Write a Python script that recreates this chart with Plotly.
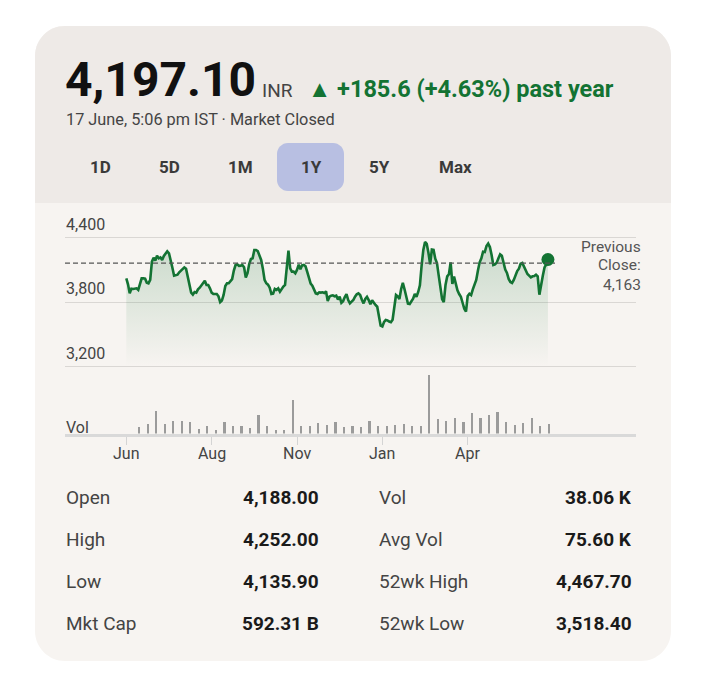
import plotly.graph_objects as go

W, H = 706, 685

# ---------------- data ----------------
price_close = [
    4022, 3966, 3882, 3926, 3923, 3926, 3929, 3914, 3960, 4022,
    4022, 4019, 3982, 3976, 4007, 4177, 4214, 4186, 4233, 4208,
    4217, 4193, 4230, 4251, 4273, 4255, 4199, 4121, 4047, 4050,
    4056, 4078, 4093, 4106, 4124, 4112, 4038, 3935, 3889, 3870,
    3895, 3889, 3920, 3935, 3960, 3982, 4000, 3960, 3960, 3929,
    3889, 3876, 3879, 3876, 3855, 3800, 3815, 3867, 3951, 3976,
    3976, 3991, 4015, 4095, 4146, 4152, 4137, 4140, 4146, 4125,
    4030, 4070, 4155, 4202, 4208, 4286, 4286, 4276, 4242, 4193,
    4112, 4007, 3976, 3963, 3935, 3876, 3879, 3923, 3914, 3929,
    3898, 3929, 3945, 3960, 4115, 4280, 4115, 4084, 4084, 4068,
    4100, 4149, 4106, 4143, 4146, 4134, 4081, 4013, 3972, 3954,
    3915, 3882, 3876, 3892, 3889, 3892, 3885, 3901, 3810, 3851,
    3861, 3864, 3855, 3861, 3825, 3851, 3795, 3810, 3848, 3876,
    3820, 3789, 3805, 3820, 3851, 3873, 3882, 3867, 3823, 3789,
    3830, 3850, 3820, 3780, 3817, 3792, 3774, 3758, 3647, 3582,
    3575, 3616, 3634, 3631, 3620, 3614, 3637, 3743, 3867, 3855,
    3830, 3923, 3979, 3920, 3836, 3786, 3783, 3808, 3833, 3876,
    3851, 3895, 3957, 4140, 4286, 4360, 4343, 4260, 4152, 4289,
    4286, 4205, 4165, 4050, 3960, 3830, 3800, 3960, 4040, 4060,
    4170, 3970, 4038, 3975, 3910, 3876, 3851, 3795, 3740, 3712,
    3858, 3879, 3867, 3920, 3972, 4007, 4095, 4171, 4208, 4270,
    4267, 4323, 4345, 4313, 4239, 4146, 4152, 4168, 4208, 4245,
    4233, 4155, 4103, 4072, 4016, 3988, 3979, 4007, 4053, 4090,
    4112, 4158, 4165, 4127, 4087, 4062, 4047, 4031, 4041, 4044,
    4056, 4041, 3870, 3973, 4047, 4124, 4152, 4197.1,
]
price_days = list(range(len(price_close)))          # trading-day index

volume_k = [
    210, 300, 680, 290, 390, 390, 360, 150, 240, 120,
    360, 220, 220, 180, 560, 230, 120, 120, 1020, 230,
    220, 310, 270, 350, 190, 240, 210, 370, 230, 220,
    250, 290, 220, 240, 1790, 430, 370, 460, 340, 610,
    460, 560, 660, 360, 270, 310, 460, 240, 280,
]
volume_days = [7.5 + 5 * i for i in range(len(volume_k))]   # one bar per week

prev_close = 4163
month_tick_days = [0, 50, 100, 150, 200]
month_tick_labels = ["Jun", "Aug", "Nov", "Jan", "Apr"]
price_ticks = [3200, 3800, 4400]
price_tick_labels = ["3,200", "3,800", "4,400"]

range_buttons = ["1D", "5D", "1M", "1Y", "5Y", "Max"]
selected_range = "1Y"

stats_left_labels = ["Open", "High", "Low", "Mkt Cap"]
stats_left_values = ["4,188.00", "4,252.00", "4,135.90", "592.31 B"]
stats_right_labels = ["Vol", "Avg Vol", "52wk High", "52wk Low"]
stats_right_values = ["38.06 K", "75.60 K", "4,467.70", "3,518.40"]

last_price = "4,197.10"
currency = "INR"
change_text = "▲ +185.6 (+4.63%) past year"
time_text = "17 June, 5:06 pm IST · Market Closed"

# ---------------- helpers ----------------
FONT = "Roboto"
GREEN = "#137333"


def px(x):
    return x / W


def py(y):
    return 1 - y / H


def rrect_path(x0, y0, x1, y1, r, round_bottom=True):
    k = 0.5523 * r
    def P(x, y):
        return f"{px(x):.5f},{py(y):.5f}"
    s = f"M {P(x0 + r, y0)} L {P(x1 - r, y0)} "
    s += f"C {P(x1 - r + k, y0)} {P(x1, y0 + r - k)} {P(x1, y0 + r)} "
    if round_bottom:
        s += f"L {P(x1, y1 - r)} "
        s += f"C {P(x1, y1 - r + k)} {P(x1 - r + k, y1)} {P(x1 - r, y1)} "
        s += f"L {P(x0 + r, y1)} "
        s += f"C {P(x0 + r - k, y1)} {P(x0, y1 - r + k)} {P(x0, y1 - r)} "
    else:
        s += f"L {P(x1, y1)} L {P(x0, y1)} "
    s += f"L {P(x0, y0 + r)} "
    s += f"C {P(x0, y0 + r - k)} {P(x0 + r - k, y0)} {P(x0 + r, y0)} Z"
    return s


# plot geometry (pixels)
X_LEFT, X_RIGHT = 65, 636
DAY_PX = 1.707
DAY0_PX = 126.3
x_range = [(X_LEFT - DAY0_PX) / DAY_PX, (X_RIGHT - DAY0_PX) / DAY_PX]

P_TOP, P_BOT = 222, 372
def val_at(ypix):
    return 4400 - (ypix - 237.7) * (600 / 64.5)
price_range = [val_at(P_BOT), val_at(P_TOP)]

V_TOP, V_BOT = 367, 433.5

fig = go.Figure()

fig.add_trace(go.Scatter(
    x=price_days, y=price_close, mode="lines",
    line=dict(color=GREEN, width=2.6),
    fill="tozeroy",
    fillgradient=dict(type="vertical",
                      colorscale=[[0, "rgba(19,115,51,0)"], [1, "rgba(19,115,51,0.20)"]],
                      start=3200, stop=4350),
    xaxis="x", yaxis="y", hoverinfo="skip", showlegend=False,
))
fig.add_trace(go.Scatter(
    x=[price_days[-1]], y=[price_close[-1]], mode="markers",
    marker=dict(color=GREEN, size=13),
    xaxis="x", yaxis="y", hoverinfo="skip", showlegend=False,
))
fig.add_trace(go.Bar(
    x=volume_days, y=volume_k, width=1.3,
    marker=dict(color="#9b9b9b", line=dict(width=0)),
    xaxis="x2", yaxis="y2", hoverinfo="skip", showlegend=False,
))

shapes = []
# card body
shapes.append(dict(type="path", xref="paper", yref="paper", layer="below",
                   path=rrect_path(35, 26, 671, 661, 30),
                   fillcolor="#f7f4f1", line=dict(width=0)))
# header band
shapes.append(dict(type="path", xref="paper", yref="paper", layer="below",
                   path=rrect_path(35, 26, 671, 203, 30, round_bottom=False),
                   fillcolor="#eeeae7", line=dict(width=0)))
# selected range pill
btn_x = [100, 169, 241, 311, 379, 455]
sel_i = range_buttons.index(selected_range)
shapes.append(dict(type="path", xref="paper", yref="paper", layer="below",
                   path=rrect_path(btn_x[sel_i] - 34, 143, btn_x[sel_i] + 33, 191, 11),
                   fillcolor="#b8bfe2", line=dict(width=0)))
# previous close dashed line
shapes.append(dict(type="line", xref="x", yref="y",
                   x0=x_range[0], x1=(555 - DAY0_PX) / DAY_PX, y0=prev_close, y1=prev_close,
                   line=dict(color="#555555", width=1.3, dash="5px,3px")))

ann = []
def text(x, y, s, size, color="#444444", anchor="left", bold=False):
    ann.append(dict(x=px(x), y=py(y), xref="paper", yref="paper",
                    text=f"<b>{s}</b>" if bold else s, showarrow=False,
                    xanchor=anchor, yanchor="middle",
                    font=dict(family=FONT, size=size, color=color)))

text(63, 80, last_price, 48, "#111111", bold=True)
text(260, 90, currency, 19, "#444444")
text(306, 88.5, change_text, 23.5, GREEN, bold=True)
text(64, 119.5, time_text, 16.3, "#444444")
for b, bx in zip(range_buttons, btn_x):
    text(bx, 167, b, 17, "#3a3a3a", anchor="center", bold=True)

# price tick labels above gridlines
for v, lab in zip(price_ticks, price_tick_labels):
    ann.append(dict(x=px(X_LEFT - 1.5), y=v, xref="paper", yref="y", text=lab,
                    showarrow=False, xanchor="left", yanchor="middle", yshift=13.7,
                    font=dict(family=FONT, size=16, color="#444444")))
text(X_LEFT - 1.5, 427.5, "Vol", 16, "#444444")

# month labels under the volume axis
for d, lab in zip(month_tick_days, month_tick_labels):
    ann.append(dict(x=d, y=py(453.5), xref="x2", yref="paper", text=lab,
                    showarrow=False, xanchor="center", yanchor="middle",
                    font=dict(family=FONT, size=16, color="#444444")))

# previous close label
text(643, 246.5, "Previous", 15.5, "#555555", anchor="right")
text(643, 265.5, "Close:", 15.5, "#555555", anchor="right")
text(643, 284.5, f"{prev_close:,}", 15.5, "#555555", anchor="right")

# stats table
row_y = [497.5, 539.5, 581.5, 623.5]
for i, y in enumerate(row_y):
    text(63.5, y, stats_left_labels[i], 19, "#444444")
    text(320.5, y, stats_left_values[i], 19, "#1a1a1a", anchor="right", bold=True)
    text(376.5, y, stats_right_labels[i], 19, "#444444")
    text(634, y, stats_right_values[i], 19, "#1a1a1a", anchor="right", bold=True)

fig.update_layout(
    width=W, height=H, margin=dict(l=0, r=0, t=0, b=0),
    paper_bgcolor="white", plot_bgcolor="rgba(0,0,0,0)",
    shapes=shapes, annotations=ann, bargap=0,
    xaxis=dict(domain=[px(X_LEFT), px(X_RIGHT)], range=x_range, showgrid=False,
               zeroline=False, showticklabels=False, ticks="", showline=False,
               anchor="y", fixedrange=True),
    yaxis=dict(domain=[py(P_BOT), py(P_TOP)], range=price_range, tickvals=price_ticks,
               showticklabels=False, ticks="", gridcolor="#dad7d4", gridwidth=1.2,
               zeroline=False, showline=False, anchor="x", fixedrange=True),
    xaxis2=dict(domain=[px(X_LEFT), px(X_RIGHT)], range=x_range, anchor="y2",
                tickvals=month_tick_days, ticktext=month_tick_labels, showticklabels=False,
                ticks="outside", ticklen=8, tickwidth=1, tickcolor="#d4d4d4", showline=True,
                linecolor="#d9d9d9", linewidth=3, showgrid=False, zeroline=False,
                fixedrange=True),
    yaxis2=dict(domain=[py(V_BOT), py(V_TOP)], range=[0, 2018], showgrid=False,
                zeroline=False, showticklabels=False, ticks="", anchor="x2",
                fixedrange=True),
)

fig.write_html("out.html")
